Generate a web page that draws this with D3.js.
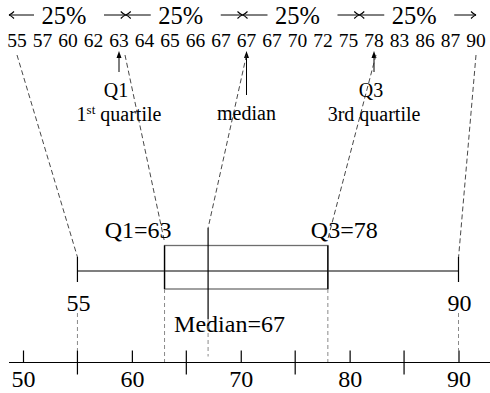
<!DOCTYPE html>
<html lang="en">
<head>
    <meta charset="UTF-8">
    <title>box plot quartiles</title>
    <script src="https://d3js.org/d3.v7.min.js"></script>
    <style>
        body { margin: 0; background: #fff; }
    </style>
</head>
<body>
    <div id="my_dataviz"></div>
    <script>
        // sorted sample shown on top
        var values = [55, 57, 60, 62, 63, 64, 65, 66, 67, 67, 67, 70, 72, 75, 78, 83, 86, 87, 90];
        // five number summary: min, Q1, median, Q3, max
        var fiveNum = [55, 63, 67, 78, 90];
        var fiveRank = [0, 4, 9, 14, 18];   // where each sits in the sorted list
        var quarterLabels = ["25%", "25%", "25%", "25%"];
        // pointers under the list (Q1, median, Q3)
        var pointerIdx = [1, 2, 3];
        var pointerTitles = ["Q1", "", "Q3"];
        var pointerNotes = ["1st quartile", "median", "3rd quartile"];
        var majorTicks = [50, 60, 70, 80, 90];
        var minorTicks = [55, 65, 75, 85];

        var width = 490, height = 393;
        var serif = "'Liberation Serif'";

        var svg = d3.select("#my_dataviz")
            .append("svg")
                .attr("width", width)
                .attr("height", height);

        // scale for the list of numbers (one slot per value)
        var xi = d3.scalePoint()
            .domain(d3.range(values.length))
            .range([17, 476]);

        // 4 quarters above the list
        var xq = d3.scaleBand()
            .domain(d3.range(quarterLabels.length))
            .range([9, 476]);

        // value scale for the box plot and the axis
        var x = d3.scaleLinear()
            .domain([50, 90])
            .range([23, 458.5]);

        // ---- quarter row: <-- 25% -->
        var arrowY = 15;
        var q = svg.append("g").selectAll("g")
            .data(quarterLabels)
            .enter().append("g")
                .attr("transform", function(d, i) { return "translate(" + xq(i) + ",0)"; });
        var bw = xq.bandwidth();
        q.append("line")
            .attr("x1", 0).attr("x2", 25)
            .attr("y1", arrowY).attr("y2", arrowY)
            .attr("stroke", "#000").attr("stroke-width", 1);
        q.append("path")
            .attr("d", "M5," + (arrowY - 3.5) + " Q2," + (arrowY - 0.5) + " 0," + arrowY + " Q2," + (arrowY + 0.5) + " 5," + (arrowY + 3.5))
            .attr("fill", "none").attr("stroke", "#000").attr("stroke-width", 1.1);
        q.append("text")
            .attr("x", 55)
            .attr("y", 23.5)
            .attr("text-anchor", "middle")
            .style("font-family", serif)
            .style("font-size", "24.5px")
            .text(function(d) { return d; });
        q.append("line")
            .attr("x1", 95).attr("x2", bw)
            .attr("y1", arrowY).attr("y2", arrowY)
            .attr("stroke", "#000").attr("stroke-width", 1);
        q.append("path")
            .attr("d", "M" + (bw - 5) + "," + (arrowY - 3.5) + " Q" + (bw - 2) + "," + (arrowY - 0.5) + " " + bw + "," + arrowY + " Q" + (bw - 2) + "," + (arrowY + 0.5) + " " + (bw - 5) + "," + (arrowY + 3.5))
            .attr("fill", "none").attr("stroke", "#000").attr("stroke-width", 1.1);

        // ---- sorted numbers
        svg.append("g").selectAll("text")
            .data(values)
            .enter().append("text")
                .attr("x", function(d, i) { return xi(i); })
                .attr("y", 47)
                .attr("text-anchor", "middle")
                .style("font-family", serif)
                .style("font-size", "19.5px")
                .text(function(d) { return d; });

        // ---- pointers (arrow up to the number + label)
        var arrowLen = [21, 44, 21];
        pointerIdx.forEach(function(k, j) {
            var px = xi(fiveRank[k]);
            var tip = 51;
            svg.append("line")
                .attr("x1", px).attr("x2", px)
                .attr("y1", tip + 4).attr("y2", tip + arrowLen[j])
                .attr("stroke", "#000").attr("stroke-width", 1);
            svg.append("path")
                .attr("d", "M" + px + "," + tip + " L" + (px - 2.5) + "," + (tip + 7) + " L" + (px + 2.5) + "," + (tip + 7) + " Z")
                .attr("fill", "#000");
            if (pointerTitles[j]) {
                svg.append("text")
                    .attr("x", px - 3)
                    .attr("y", 97)
                    .attr("text-anchor", "middle")
                    .style("font-family", serif)
                    .style("font-size", "20px")
                    .text(pointerTitles[j]);
            }
            var note = svg.append("text")
                .attr("x", px)
                .attr("y", j == 1 ? 120 : 121)
                .attr("text-anchor", "middle")
                .style("font-family", serif)
                .style("font-size", "20px");
            if (j == 0) {
                note.append("tspan").text("1");
                note.append("tspan").attr("dy", -7).style("font-size", "13px").text("st");
                note.append("tspan").attr("dy", 7).text(" quartile");
            } else {
                note.text(pointerNotes[j]);
            }
        });

        // ---- box plot
        var whiskerY = 271;
        var boxTop = 245.5, boxBottom = 289;
        var targetY = [257, 242, 228, 239, 258];   // where the dashed guide lines land
        var startDx = [0, 6, 0, 2, 0];

        // dashed guides from the list down to the box
        svg.append("g").selectAll("line")
            .data(fiveNum)
            .enter().append("line")
                .attr("x1", function(d, i) { return xi(fiveRank[i]) + startDx[i]; })
                .attr("y1", 55)
                .attr("x2", function(d) { return x(d); })
                .attr("y2", function(d, i) { return targetY[i]; })
                .attr("stroke", "#333")
                .attr("stroke-width", 0.9)
                .attr("stroke-dasharray", "5,3");

        // whisker
        svg.append("line")
            .attr("x1", x(fiveNum[0])).attr("x2", x(fiveNum[4]))
            .attr("y1", whiskerY).attr("y2", whiskerY)
            .attr("stroke", "#000").attr("stroke-width", 1.2);
        [fiveNum[0], fiveNum[4]].forEach(function(v) {
            svg.append("line")
                .attr("x1", x(v)).attr("x2", x(v))
                .attr("y1", 257).attr("y2", 282)
                .attr("stroke", "#000").attr("stroke-width", 1.2);
        });
        // box
        svg.append("rect")
            .attr("x", x(fiveNum[1]))
            .attr("y", boxTop)
            .attr("width", x(fiveNum[3]) - x(fiveNum[1]))
            .attr("height", boxBottom - boxTop)
            .attr("fill", "none")
            .attr("stroke", "#6e6e6e")
            .attr("stroke-width", 1.3);
        [fiveNum[1], fiveNum[3]].forEach(function(v) {
            svg.append("line")
                .attr("x1", x(v)).attr("x2", x(v))
                .attr("y1", boxTop).attr("y2", boxBottom)
                .attr("stroke", "#000").attr("stroke-width", 1.3);
        });
        // median line
        svg.append("line")
            .attr("x1", x(fiveNum[2])).attr("x2", x(fiveNum[2]))
            .attr("y1", 228).attr("y2", 319)
            .attr("stroke", "#000").attr("stroke-width", 1.2);

        // labels on the box plot
        svg.append("text")
            .attr("x", x(fiveNum[1]) + 7).attr("y", 238)
            .attr("text-anchor", "end")
            .style("font-family", serif).style("font-size", "24px")
            .text("Q1=" + fiveNum[1]);
        svg.append("text")
            .attr("x", x(fiveNum[3]) - 17).attr("y", 238)
            .style("font-family", serif).style("font-size", "24px")
            .text("Q3=" + fiveNum[3]);
        svg.append("text")
            .attr("x", x(fiveNum[2]) - 34).attr("y", 331.5)
            .style("font-family", serif).style("font-size", "24px")
            .text("Median=" + fiveNum[2]);
        [fiveNum[0], fiveNum[4]].forEach(function(v) {
            svg.append("text")
                .attr("x", x(v) + 1).attr("y", 311)
                .attr("text-anchor", "middle")
                .style("font-family", serif).style("font-size", "24px")
                .text(v);
        });

        // ---- axis
        var axisY = 362.5;
        var grey = "#8a8a8a";
        // grey dashed drop lines
        var drops = [
            [fiveNum[0], 313, axisY - 12],
            [fiveNum[4], 313, axisY - 12],
            [fiveNum[1], boxBottom, axisY],
            [fiveNum[3], boxBottom, axisY],
            [fiveNum[2], 319, axisY - 6]
        ];
        svg.append("g").selectAll("line")
            .data(drops)
            .enter().append("line")
                .attr("x1", function(d) { return x(d[0]); })
                .attr("x2", function(d) { return x(d[0]); })
                .attr("y1", function(d) { return d[1]; })
                .attr("y2", function(d) { return d[2]; })
                .attr("stroke", grey)
                .attr("stroke-width", 1)
                .attr("stroke-dasharray", "4,3");

        var gAxis = svg.append("g")
            .attr("transform", "translate(0," + axisY + ")")
            .call(d3.axisBottom(x).tickValues(majorTicks).tickSize(-12).tickPadding(7));
        gAxis.select(".domain").remove();
        gAxis.selectAll(".tick line").attr("stroke", "#000").attr("stroke-width", 1.2);
        gAxis.selectAll(".tick text")
            .style("font-family", serif)
            .style("font-size", "24px")
            .attr("fill", "#000");
        gAxis.append("line")
            .attr("x1", 9).attr("x2", width)
            .attr("stroke", "#000").attr("stroke-width", 1.2);
        gAxis.selectAll(".minor")
            .data(minorTicks)
            .enter().append("line")
                .attr("class", "minor")
                .attr("x1", function(d) { return x(d); })
                .attr("x2", function(d) { return x(d); })
                .attr("y1", -12).attr("y2", 12)
                .attr("stroke", "#000").attr("stroke-width", 1.2);
    </script>
</body>
</html>
